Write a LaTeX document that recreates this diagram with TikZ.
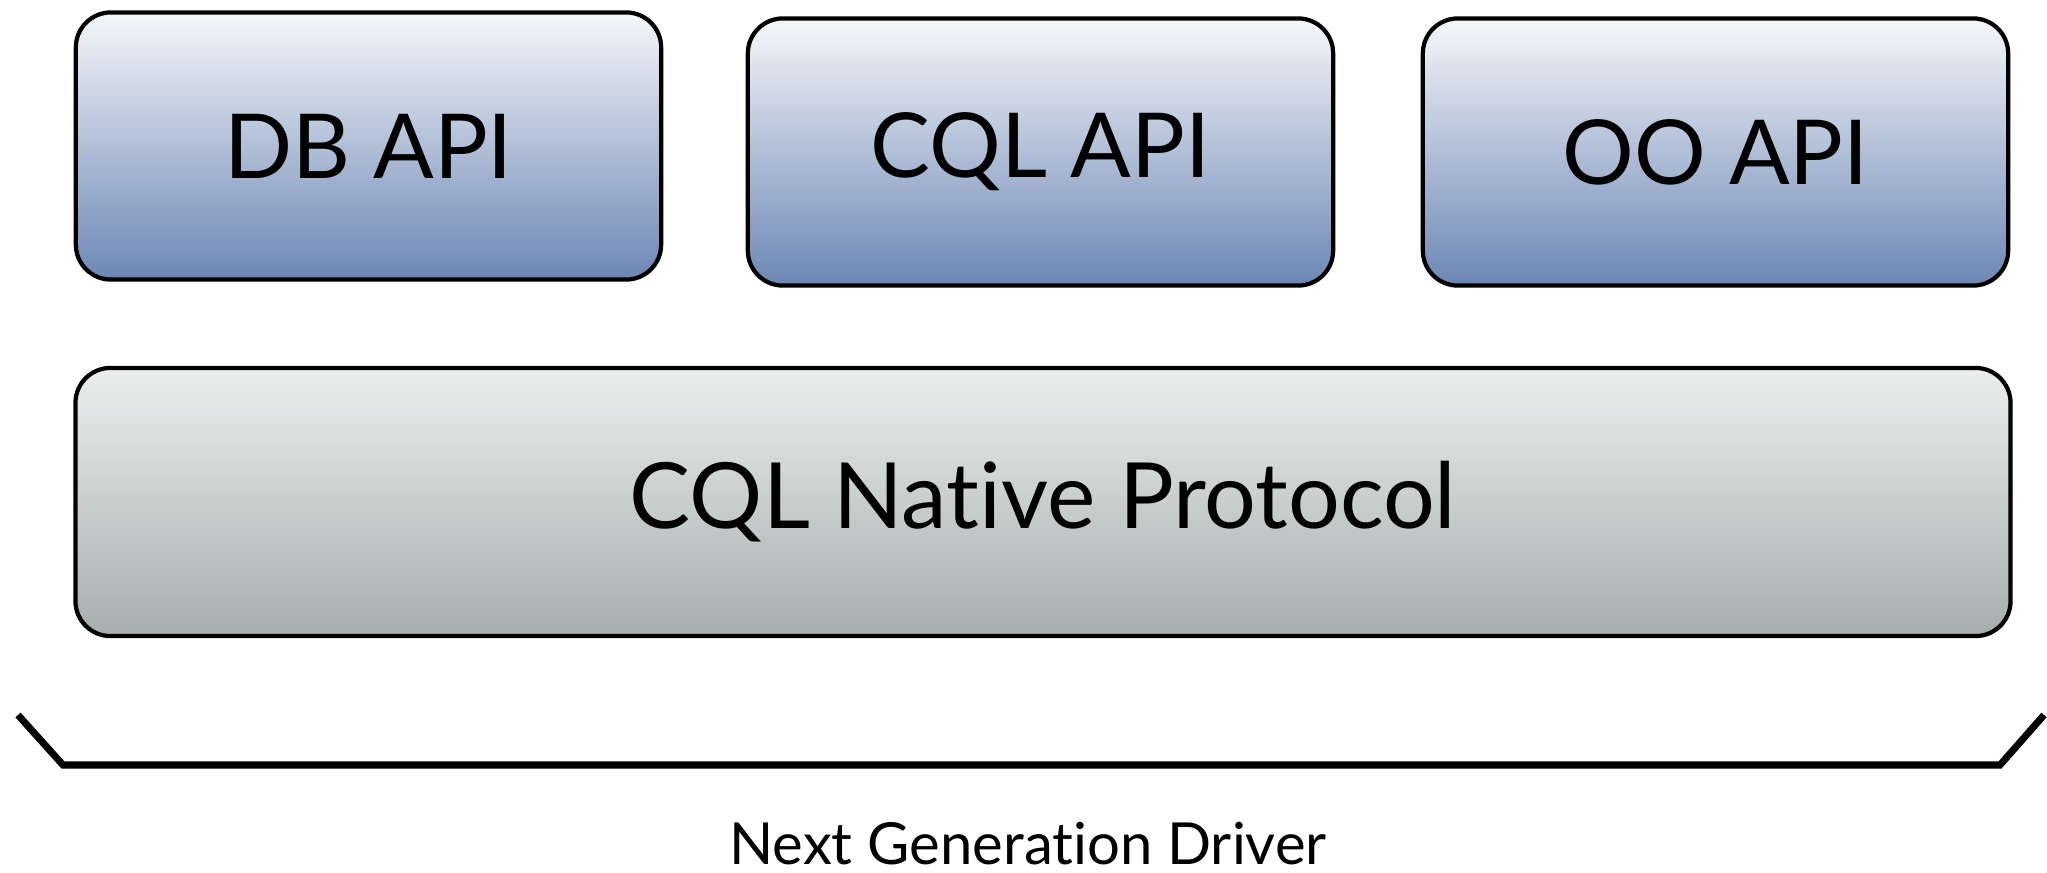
\documentclass[tikz,border=0pt]{standalone}
\usepackage{fontspec}
\setmainfont[Ligatures={NoCommon,NoRare}]{Lato}
\usepackage{tikz}
\definecolor{apiLight}{HTML}{F6F7FA}
\definecolor{apiDark}{HTML}{6C86B4}
\definecolor{protocolLight}{HTML}{ECEEEE}
\definecolor{protocolDark}{HTML}{A6AEAD}
\tikzset{
  every layer box/.style={draw,line width=1.2pt,rounded corners=0.35cm,
    shading=axis,shading angle=30,inner sep=0pt},
  brace line/.style={line width=2pt,line join=miter},
}
\begin{document}
\begin{tikzpicture}[
  x=0.01cm,y=-0.01cm,
  apibox/.style={every layer box,top color=apiLight,bottom color=apiDark,
    minimum width=5.85cm,minimum height=2.67cm,font=\fontsize{25.5}{30}\selectfont},
  protocolbox/.style={every layer box,top color=protocolLight,bottom color=protocolDark,
    minimum width=19.34cm,minimum height=2.68cm,font=\fontsize{26}{30}\selectfont},
]
\useasboundingbox (0,0) rectangle (2047,873);
% api layer
\node[apibox] (dbApi) at (368.5,146) {DB API};
\node[apibox] (cqlApi) at (1040.5,152) {CQL API};
\node[apibox] (ooApi) at (1715.5,152) {OO API};
% protocol layer
\node[protocolbox] (nativeProtocol) at (1043,502) {CQL Native Protocol};
% bracket
\coordinate (braceStart) at (18,715);
\coordinate (braceLeft) at (63,765);
\coordinate (braceRight) at (2000,765);
\coordinate (braceEnd) at (2044,715);
\draw[brace line] (braceStart) -- (braceLeft) -- (braceRight) -- (braceEnd);
\node[font=\fontsize{16.5}{20}\selectfont] (driverLabel) at (1028,844) {Next Generation Driver};
\end{tikzpicture}
\end{document}
